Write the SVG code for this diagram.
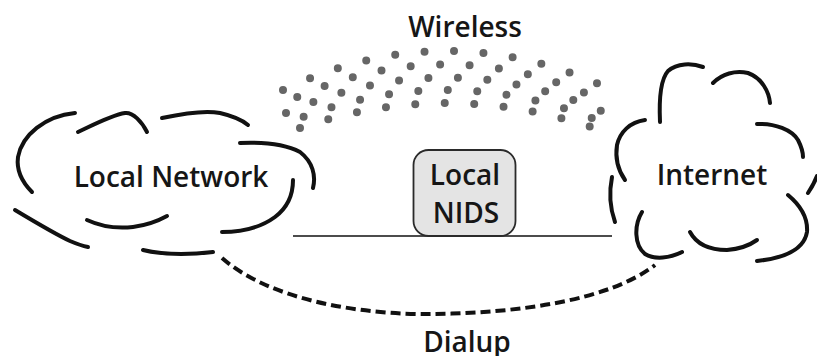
<svg xmlns="http://www.w3.org/2000/svg" width="817" height="356" viewBox="0 0 817 356">
<style>
.t{font-family:"Open Sans","Liberation Sans",sans-serif;font-size:28px;font-weight:600;fill:#161616;text-anchor:middle}
.c{fill:none;stroke:#111;stroke-width:4;stroke-linecap:round;stroke-linejoin:round}
.d{fill:none;stroke:#666;stroke-width:8;stroke-linecap:round;stroke-dasharray:0 29.5}
</style>
<rect width="817" height="356" fill="#fff"/>
<g id="connectors">
<path id="lan" d="M293,236 H612" fill="none" stroke="#111" stroke-width="1.6"/>
<path id="dialup" d="M222,258 C270,300 360,315 433,314 C520,313 610,300 655,265" fill="none" stroke="#111" stroke-width="4" stroke-dasharray="10 5"/>
<g id="wireless-dots">
<path class="d" d="M283,90 Q446,12 612,90"/>
<path class="d" d="M284,103 Q446,26 608,103" stroke-dashoffset="15"/>
<path class="d" d="M286,113 Q446,42 606,113"/>
<path class="d" d="M290,122 Q446,58 602,122" stroke-dashoffset="15"/>
<path class="d" d="M300,128 Q446,78 594,128"/>
</g>
</g>
<g id="wireless-label"><text class="t" x="465" y="37">Wireless</text></g>
<g id="local-network">
<path class="c" d="M75,113 C45,116 22,135 18,157 C16,172 24,184 32,192"/>
<path class="c" d="M78,132 C95,124 112,115 125,113 C133,112 142,122 147,132"/>
<path class="c" d="M162,118 C185,113 205,110 220,113 C233,116 242,120 248,125"/>
<path class="c" d="M240,143 C262,142 285,144 300,152 C313,162 316,176 313,188"/>
<path class="c" d="M293,180 C293,196 287,208 275,217 C260,228 240,232 222,232"/>
<path class="c" d="M87,220 C100,226 115,229 133,227 C148,225 158,221 167,216"/>
<path class="c" d="M15,210 C35,222 55,234 70,241 C77,244 83,246 88,247"/>
<path class="c" d="M143,250 C160,254 180,256 213,252"/>
<text class="t" x="171" y="187">Local Network</text>
</g>
<g id="internet">
<path class="c" d="M660,122 C659,100 660,80 668,71 C677,63 692,63 703,67"/>
<path class="c" d="M713,83 C722,74 735,70 748,73 C762,78 769,92 770,103"/>
<path class="c" d="M757,124 C775,123 792,130 798,140 C801,146 803,152 803,157"/>
<path class="c" d="M808,193 Q814,184 817,176"/>
<path class="c" d="M788,195 C800,205 808,218 807,232 C804,250 785,258 757,261"/>
<path class="c" d="M690,232 C697,245 710,250 727,250 C740,249 750,245 757,240"/>
<path class="c" d="M642,212 C634,225 634,245 645,254 C655,260 670,258 682,252"/>
<path class="c" d="M645,120 C630,122 620,132 617,145 C615,158 618,170 625,180"/>
<path class="c" d="M612,177 C609,192 610,208 615,222"/>
<text class="t" x="712" y="185">Internet</text>
</g>
<g id="local-nids">
<rect x="413.5" y="150" width="102" height="86" rx="15" fill="#e4e4e4" stroke="#2a2a2a" stroke-width="1.8"/>
<text class="t" x="465" y="185">Local</text>
<text class="t" x="466" y="223">NIDS</text>
</g>
<g id="dialup-label"><text class="t" x="467" y="352">Dialup</text></g>
</svg>
